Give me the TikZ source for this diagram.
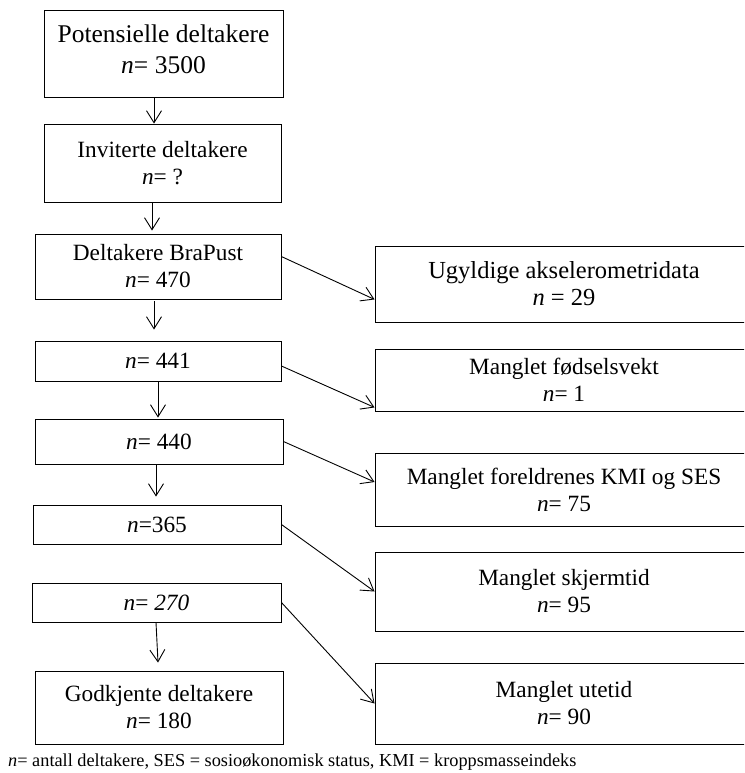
\documentclass[tikz,border=0pt]{standalone}
\usepackage{fontspec}
\setmainfont{Liberation Serif}
\usetikzlibrary{arrows.meta,calc}
\tikzset{
  box/.style={draw, line width=0.9pt, inner sep=0pt, align=center, font=\fontsize{23.3}{27}\selectfont},
  arr/.style={-{Straight Barb[length=12pt,width=15pt]}, line width=0.9pt},
  note/.style={anchor=west, inner sep=0pt, font=\fontsize{18.3}{22}\selectfont},
}
\newcommand{\nn}{\textit{n}}
\begin{document}
\begin{tikzpicture}[x=1pt,y=-1pt]
\useasboundingbox (0,0) rectangle (744,773);
\clip (0,0) rectangle (744,773);
% left column
\node[box, minimum width=239pt, minimum height=87pt] (L1) at (163.5,53.5) {};
\node[align=center, inner sep=0pt, font=\fontsize{25.5}{31}\selectfont] (L1t) at (163.5,49) {Potensielle deltakere\\\nn= 3500};
\node[box, minimum width=237pt, minimum height=78pt] (L2) at (162.5,163) {Inviterte deltakere\\\nn= ?};
\node[box, minimum width=246pt, minimum height=65pt] (L3) at (158,266.5) {Deltakere BraPust\\\nn= 470};
\node[box, minimum width=246pt, minimum height=40pt] (L4) at (158,361) {\nn= 441};
\node[box, minimum width=248pt, minimum height=45pt] (L5) at (159,441.5) {\nn= 440};
\node[box, minimum width=248pt, minimum height=39pt] (L6) at (157,524.5) {\nn=365};
\node[box, minimum width=249pt, minimum height=39pt] (L7) at (156.5,602.5) {\nn= \textit{270}};
\node[box, minimum width=248pt, minimum height=73pt] (L8) at (159,707.5) {Godkjente deltakere\\\nn= 180};
% right column
\node[box, minimum width=378pt, minimum height=76pt, font=\fontsize{24.5}{27}\selectfont] (R1) at (564,284) {Ugyldige akselerometridata\\\nn{} = 29};
\node[box, minimum width=378pt, minimum height=62pt] (R2) at (564,380) {Manglet fødselsvekt\\\nn= 1};
\node[box, minimum width=378pt, minimum height=73pt] (R3) at (564,489.5) {Manglet foreldrenes KMI og SES\\\nn= 75};
\node[box, minimum width=378pt, minimum height=79pt] (R4) at (564,591.5) {Manglet skjermtid\\\nn= 95};
\node[box, minimum width=378pt, minimum height=81pt] (R5) at (564,703.5) {Manglet utetid\\\nn= 90};
% footnote
\node[note] (N) at (8,762) {\nn= antall deltakere, SES = sosioøkonomisk status, KMI = kroppsmasseindeks};
% vertical arrows
\draw[arr] ($(L1.south)+(-9.5,0)$) -- ($(L2.north)+(-8.5,0)$);
\draw[arr] ($(L2.south)+(-10.5,0)$) -- ($(L3.north)+(-6,-3)$);
\draw[arr] ($(L3.south)+(-4,2)$) -- ($(L4.north)+(-4,-11)$);
\draw[arr] ($(L4.south)+(0,0)$) -- ($(L5.north)+(-1,-1)$);
\draw[arr] ($(L5.south)+(-3,0)$) -- ($(L6.north)+(-1,-8)$);
\draw[arr] ($(L7.south)+(-0.5,0)$) -- ($(L8.north)+(-1,-8)$);
% diagonal arrows
\draw[arr] ($(L3.north east)+(0,23)$) -- ($(R1.south west)+(0,-23)$);
\draw[arr] ($(L4.east)+(0,5)$) -- ($(R2.south west)+(0,-4)$);
\draw[arr] (L5.east) -- ($(R3.west)+(0,-7.5)$);
\draw[arr] (L6.east) -- (R4.west);
\draw[arr] (L7.east) -- (R5.west);
\end{tikzpicture}
\end{document}
